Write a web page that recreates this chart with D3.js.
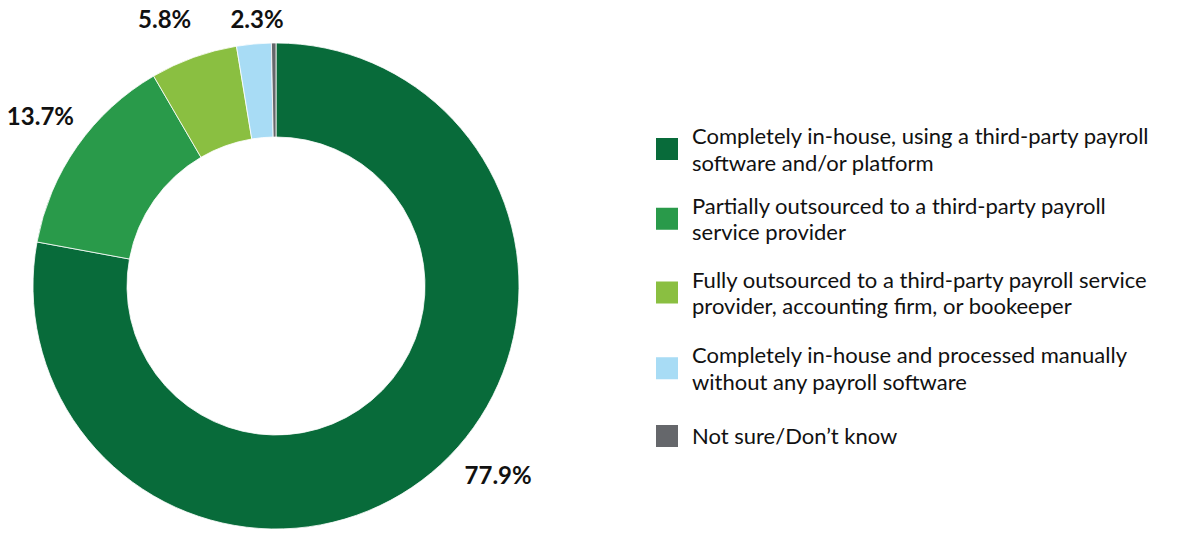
<!DOCTYPE html>
<html>
<head>
<meta charset="utf-8">
<script src="https://cdn.jsdelivr.net/npm/d3@7"></script>
<style>
  body { margin: 0; background: #fff; }
  svg { display: block; font-family: Lato, "Open Sans", sans-serif; }
</style>
</head>
<body>
<div id="chart"></div>
<script>
const categories = [
    ["Completely in-house, using a third-party payroll", "software and/or platform"],
    ["Partially outsourced to a third-party payroll", "service provider"],
    ["Fully outsourced to a third-party payroll service", "provider, accounting firm, or bookeeper"],
    ["Completely in-house and processed manually", "without any payroll software"],
    ["Not sure/Don\u2019t know"]
];
const values = [77.9, 13.7, 5.8, 2.3, 0.3];
const labels = ["77.9%", "13.7%", "5.8%", "2.3%", ""];
const colors = ["#086b3a", "#299a4a", "#8abf41", "#a8dcf5", "#65676b"];

const width = 1178, height = 533;
const cx = 276, cy = 286;
const outerR = 243, innerR = 149;

const svg = d3.select('#chart').append('svg')
    .attr('width', width)
    .attr('height', height);

const pie = d3.pie().sort(null).value(d => d);
const arcs = pie(values);

const arc = d3.arc().innerRadius(innerR).outerRadius(outerR);

const g = svg.append('g').attr('transform', `translate(${cx},${cy})`);

g.selectAll('path')
    .data(arcs)
    .join('path')
    .attr('d', arc)
    .attr('fill', (d, i) => colors[i])
    .attr('stroke', '#fff')
    .attr('stroke-width', 0.8);

// labels sit outside the ring, each with its own distance / angle tweak
const labelR = [292, 290, 289, 267, 0];
const angleNudge = [-0.17, 0.01, -0.05, 0.02, 0];

g.selectAll('text.pct')
    .data(arcs)
    .join('text')
    .attr('class', 'pct')
    .attr('transform', (d, i) => {
        const a = (d.startAngle + d.endAngle) / 2 + angleNudge[i];
        const c = d3.arc().innerRadius(labelR[i]).outerRadius(labelR[i])
            .centroid({startAngle: a, endAngle: a});
        return `translate(${c[0]},${c[1]})`;
    })
    .attr('text-anchor', 'middle')
    .attr('dy', '0.35em')
    .attr('font-size', 24)
    .attr('font-weight', 700)
    .attr('fill', '#111')
    .text((d, i) => labels[i]);

// legend, one text per line
const legendY = d3.scalePoint().domain(d3.range(categories.length)).range([149, 436]);
const itemNudge = [0, -2, 0, 4, 0];
const legend = svg.append('g').attr('transform', 'translate(656,0)');

const item = legend.selectAll('g')
    .data(categories)
    .join('g')
    .attr('transform', (d, i) => `translate(0,${legendY(i) + itemNudge[i]})`);

item.append('rect')
    .attr('x', 0)
    .attr('y', -11)
    .attr('width', 22)
    .attr('height', 22)
    .attr('fill', (d, i) => colors[i]);

item.each(function(d) {
    const top = d.length > 1 ? -5 : 8;
    d3.select(this).selectAll('text')
        .data(d)
        .join('text')
        .attr('x', 36)
        .attr('y', (line, j) => top + j * 26.5)
        .attr('font-size', 22)
        .attr('fill', '#111')
        .text(line => line);
});
</script>
</body>
</html>
